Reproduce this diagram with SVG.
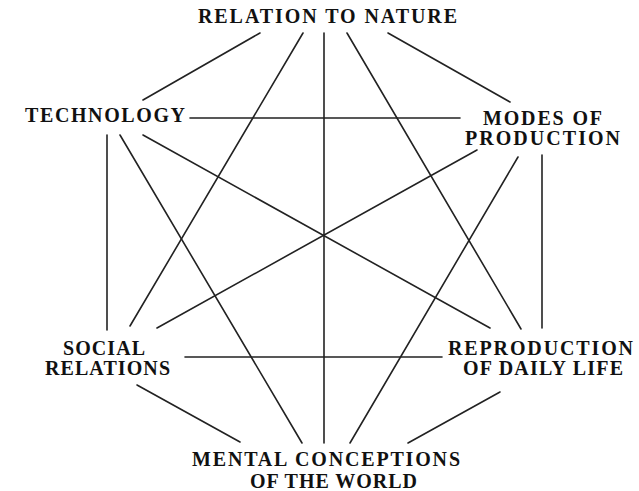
<svg xmlns="http://www.w3.org/2000/svg" width="639" height="491" viewBox="0 0 639 491">
<style>
.lbl{font-family:"Liberation Serif","Times New Roman",serif;font-weight:bold;font-size:20px;fill:#111;}
.c line{stroke:#222;stroke-width:1.6;stroke-linecap:round;}
</style>
<rect width="639" height="491" fill="#fff"/>
<g class="c" id="connectors">
<line x1="260" y1="33" x2="143" y2="100"/>
<line x1="303" y1="33" x2="130" y2="326"/>
<line x1="324" y1="33" x2="324" y2="443"/>
<line x1="347" y1="33" x2="521" y2="329"/>
<line x1="388" y1="33" x2="510" y2="102"/>
<line x1="190" y1="118" x2="460" y2="118"/>
<line x1="107" y1="135" x2="107" y2="330"/>
<line x1="120" y1="135" x2="302" y2="443"/>
<line x1="143" y1="135" x2="490" y2="328"/>
<line x1="477" y1="150" x2="157" y2="328"/>
<line x1="518" y1="157" x2="350" y2="443"/>
<line x1="542" y1="155" x2="542" y2="328"/>
<line x1="185" y1="357" x2="442" y2="357"/>
<line x1="137" y1="385" x2="240" y2="442"/>
<line x1="500" y1="392" x2="408" y2="443"/>
</g>
<g id="relation-to-nature"><text class="lbl" x="198" y="23" textLength="259" lengthAdjust="spacing">RELATION TO NATURE</text></g>
<g id="technology"><text class="lbl" x="25" y="122" textLength="160" lengthAdjust="spacing">TECHNOLOGY</text></g>
<g id="modes-of-production">
<text class="lbl" x="483" y="125" textLength="119" lengthAdjust="spacing">MODES OF</text>
<text class="lbl" x="465" y="145" textLength="155" lengthAdjust="spacing">PRODUCTION</text>
</g>
<g id="social-relations">
<text class="lbl" x="63" y="355" textLength="82" lengthAdjust="spacing">SOCIAL</text>
<text class="lbl" x="45" y="375" textLength="125" lengthAdjust="spacing">RELATIONS</text>
</g>
<g id="reproduction-of-daily-life">
<text class="lbl" x="448" y="355" textLength="185" lengthAdjust="spacing">REPRODUCTION</text>
<text class="lbl" x="463" y="375" textLength="160" lengthAdjust="spacing">OF DAILY LIFE</text>
</g>
<g id="mental-conceptions">
<text class="lbl" x="192" y="466" textLength="268" lengthAdjust="spacing">MENTAL CONCEPTIONS</text>
<text class="lbl" x="250" y="488" textLength="167" lengthAdjust="spacing">OF THE WORLD</text>
</g>
</svg>
